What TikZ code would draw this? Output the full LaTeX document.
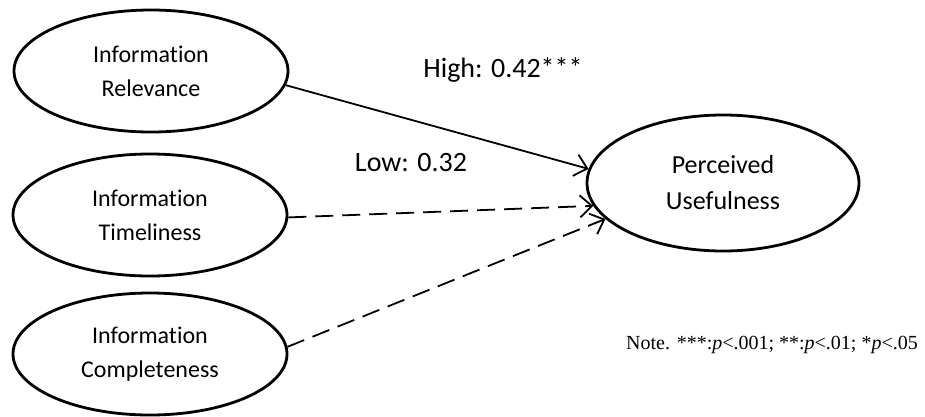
\documentclass[tikz,border=0pt]{standalone}
\usepackage{fontspec}
\setmainfont{Carlito}[Ligatures={NoCommon,NoContextual}]
\newfontfamily\notefont{Liberation Serif}
\usetikzlibrary{shapes.geometric,arrows.meta}
\begin{document}
\begin{tikzpicture}[x=1pt,y=-1pt,
  construct/.style={draw,ellipse,line width=2.8pt,inner sep=0pt,
    minimum width=274pt,minimum height=122pt,align=center,
    font=\fontsize{24}{34}\selectfont},
  path1/.style={line width=1.8pt,-{Straight Barb[length=12pt,width=22pt,line width=1.8pt]}},
  dpath/.style={path1,dash pattern=on 18pt off 9pt},
  lbl/.style={anchor=base,inner sep=0pt,font=\fontsize{28}{32}\selectfont}]
\useasboundingbox (0,0) rectangle (925,416);
\node[construct] (rel) at (151,71) {Information\\Relevance};
\node[construct] (tim) at (150,215) {Information\\Timeliness};
\node[construct] (com) at (150,354) {Information\\Completeness};
\node[construct,minimum width=272pt,minimum height=136pt,
  font=\fontsize{26}{36}\selectfont] (pu) at (723,183) {Perceived\\Usefulness};
\draw[path1] (rel.-6) -- (pu.174);
\draw[dpath] (tim.-1) -- (pu.190);
\draw[dpath] (com.3) -- (pu.197);
\node[lbl] (high) at (503,77) {High: 0.42***};
\node[lbl] (low) at (411,171) {Low: 0.32};
\node[anchor=base west,inner sep=0pt,font=\notefont\fontsize{20}{24}\selectfont] (note) at (626,349)
  {Note. ***:\textit{p}<.001; **:\textit{p}<.01; *\textit{p}<.05};
\end{tikzpicture}
\end{document}
